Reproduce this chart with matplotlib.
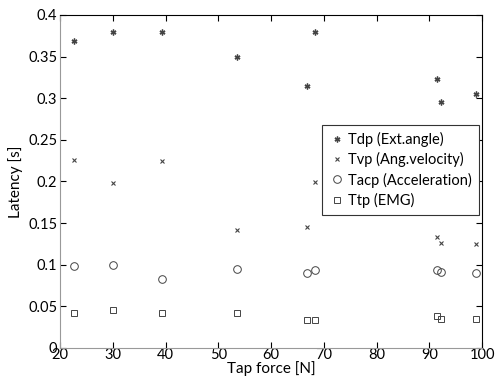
import numpy as np
import matplotlib.pyplot as plt
from matplotlib.ticker import FuncFormatter

plt.rcParams['font.family'] = ['Lato', 'DejaVu Sans']

# tap force [N]
force = [22.6, 30.1, 39.4, 53.6, 66.8, 68.4, 91.5, 92.2, 98.8]
# latencies [s]
tdp = [0.369, 0.379, 0.379, 0.350, 0.315, 0.379, 0.323, 0.295, 0.305]
tvp = [0.226, 0.198, 0.225, 0.142, 0.145, 0.199, 0.133, 0.126, 0.125]
tacp = [0.098, 0.100, 0.083, 0.095, 0.090, 0.094, 0.094, 0.091, 0.090]
ttp = [0.042, 0.046, 0.042, 0.042, 0.034, 0.034, 0.039, 0.035, 0.035]

fig = plt.figure(figsize=(4.96, 3.78), dpi=100)
ax = fig.add_axes([0.121, 0.0794, 0.851, 0.881])

c = '#444444'
ax.plot(force, tdp, ls='none', marker=(6, 2, 0), ms=4.2, mew=1.0, color=c, label='Tdp (Ext.angle)')
ax.plot(force, tvp, ls='none', marker='x', ms=3.5, mew=0.8, color=c, label='Tvp (Ang.velocity)')
ax.plot(force, tacp, ls='none', marker='o', ms=5.5, mew=0.7, mfc='none', mec=c, label='Tacp (Acceleration)')
ax.plot(force, ttp, ls='none', marker='s', ms=5, mew=0.7, mfc='none', mec=c, label='Ttp (EMG)')

ax.set_xlim(20, 100)
ax.set_ylim(0, 0.4)
ax.set_xticks(np.arange(20, 101, 10))
ax.set_yticks(np.arange(0, 0.401, 0.05))
ax.yaxis.set_major_formatter(FuncFormatter(lambda v, p: '%g' % round(v, 2)))
ax.tick_params(direction='in', top=True, right=True, length=4, width=0.8, labelsize=10.5)
ax.tick_params(axis='x', pad=0)
ax.tick_params(axis='y', pad=2)

for s in ['left', 'bottom']:
    ax.spines[s].set_color('#999999')
for s in ['top', 'right']:
    ax.spines[s].set_color('black')

ax.set_xlabel('Tap force [N]', fontsize=11, labelpad=-1)
ax.set_ylabel('Latency [s]', fontsize=11, labelpad=4)

leg = ax.legend(loc='upper right', bbox_to_anchor=(0.993, 0.67), borderaxespad=0,
                fontsize=10.5, fancybox=False, framealpha=1, edgecolor='#333333',
                handletextpad=0.2, borderpad=0.5, labelspacing=0.35, handlelength=1.1)
leg.get_frame().set_linewidth(0.8)

fig.savefig('out.png', dpi=100)
